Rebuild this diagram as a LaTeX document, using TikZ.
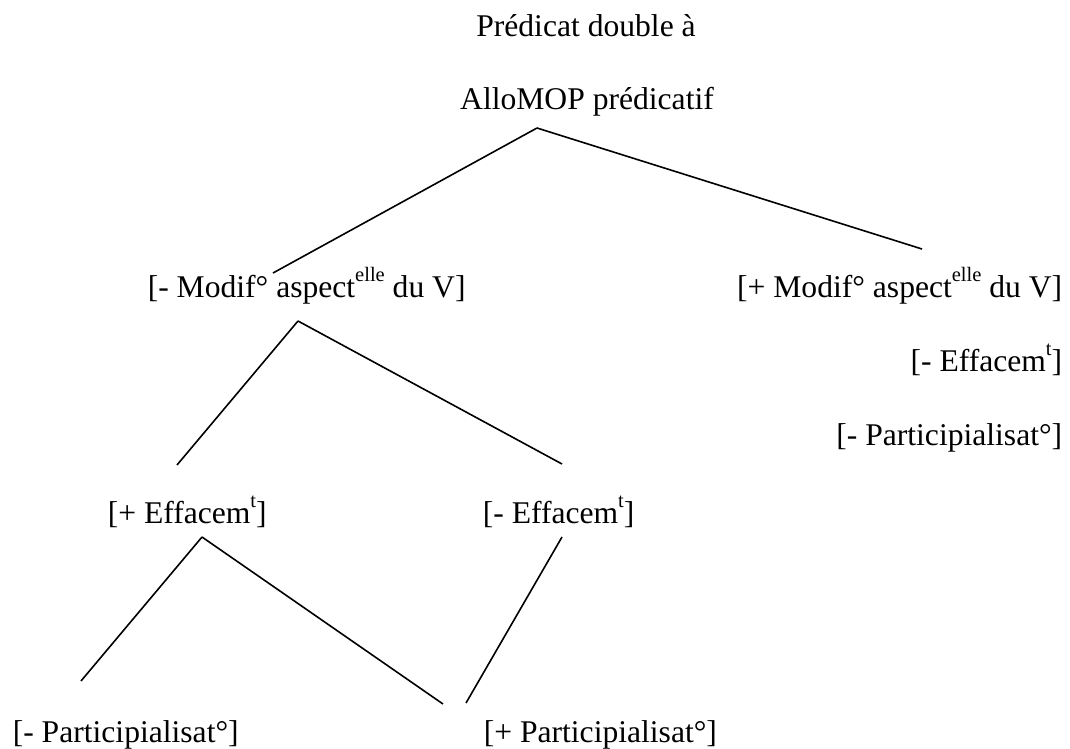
\documentclass[tikz,border=0pt]{standalone}
\usepackage{fontspec}
\setmainfont{Liberation Serif}
\newcommand{\exposant}[1]{\raisebox{0.5em}{\fontsize{20.5}{24}\selectfont #1}}

\begin{document}
\begin{tikzpicture}[x=1pt,y=-1pt,line width=1.6pt,every node/.style={inner sep=0pt,font=\fontsize{31.6}{38}\selectfont},lbl/.style={anchor=base west},rlbl/.style={anchor=base east}]
  \useasboundingbox (0,0) rectangle (1070,749);
  % labels
  \node[anchor=base] (pred) at (586,37) {Prédicat double à};
  \node[anchor=base] (allo) at (587,110) {AlloMOP prédicatif};
  \node[lbl] (modneg) at (147,297) {[- Modif° aspect\exposant{elle} du V]};
  \node[rlbl] (modpos) at (1063,297) {[+ Modif° aspect\exposant{elle} du V]};
  \node[rlbl] (effneg2) at (1063,371) {[- Effacem\exposant{t}]};
  \node[rlbl] (partneg2) at (1063,445) {[- Participialisat°]};
  \node[lbl] (effpos) at (107,523) {[+ Effacem\exposant{t}]};
  \node[lbl] (effneg) at (482,523) {[- Effacem\exposant{t}]};
  \node[lbl] (partneg) at (12,742) {[- Participialisat°]};
  \node[lbl] (partpos) at (483,742) {[+ Participialisat°]};
  % branch ends
  \coordinate (allo-b) at (537,128);
  \coordinate (modneg-t) at (273,273);
  \coordinate (modpos-t) at (922,249);
  \coordinate (modneg-b) at (298,321);
  \coordinate (effpos-t) at (177,465);
  \coordinate (effneg-t) at (562,464);
  \coordinate (effpos-b) at (202,537);
  \coordinate (effneg-b) at (562,537);
  \coordinate (partneg-t) at (81,681);
  \coordinate (partpos-l) at (443,704);
  \coordinate (partpos-r) at (466,703);
  % branches
  \path (allo-b) edge (modneg-t);
  \path (allo-b) edge (modpos-t);
  \path (modneg-b) edge (effpos-t);
  \path (modneg-b) edge (effneg-t);
  \path (effpos-b) edge (partneg-t);
  \path (effpos-b) edge (partpos-l);
  \path (effneg-b) edge (partpos-r);
\end{tikzpicture}
\end{document}
